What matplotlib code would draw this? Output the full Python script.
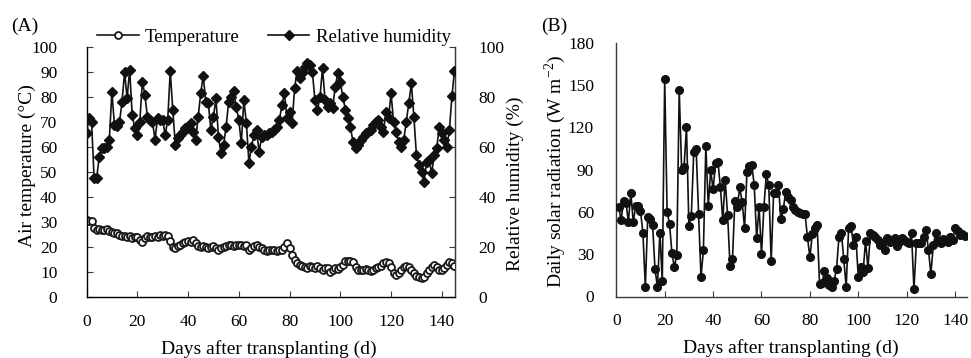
import matplotlib
matplotlib.use("Agg")
import matplotlib.pyplot as plt
import numpy as np

plt.rcParams['font.family'] = ['Liberation Serif', 'DejaVu Serif']
plt.rcParams['mathtext.fontset'] = 'stix'

# ---------------- data ----------------
days_a = np.arange(0, 146)
temperature = [
    30.8, 30.5, 30.3, 27.5, 27.0, 27.3, 27.0, 26.8, 27.2, 26.5,
    26.0, 25.5, 25.8, 25.0, 24.5, 24.5, 24.0, 24.3, 23.8, 24.0,
    24.2, 23.0, 22.0, 23.5, 24.5, 24.0, 24.2, 24.5, 24.0, 24.8,
    24.3, 25.0, 24.5, 22.5, 20.0, 19.5, 20.5, 21.0, 21.5, 22.0,
    22.5, 22.0, 22.8, 21.5, 20.5, 20.0, 20.5, 20.2, 19.8, 20.0,
    20.5, 19.5, 19.0, 19.5, 20.0, 20.5, 20.8, 21.0, 20.5, 21.0,
    20.8, 21.0, 20.5, 21.0, 19.0, 19.5, 20.5, 21.0, 20.2, 19.5,
    19.0, 18.5, 19.0, 18.8, 19.0, 18.5, 19.0, 18.8, 20.0, 21.7,
    19.5, 17.0, 15.0, 13.5, 12.8, 12.5, 12.0, 11.5, 12.5, 12.0,
    11.8, 12.3, 11.5, 11.0, 11.8, 11.5, 10.2, 11.0, 11.5, 11.2,
    12.0, 13.0, 14.4, 14.5, 14.3, 14.0, 12.0, 11.0, 10.8, 11.0,
    11.2, 10.8, 10.5, 11.0, 11.5, 12.0, 12.5, 13.5, 14.1, 13.5,
    12.0, 9.5, 8.8, 9.5, 11.0, 12.0, 12.4, 12.0, 11.0, 9.5,
    8.5, 8.0, 7.5, 8.0, 9.5, 11.0, 12.0, 12.8, 12.0, 11.0,
    10.8, 11.5, 13.0, 14.1, 13.5, 12.4,
]
humidity = [
    65.5, 71.5, 70.0, 47.5, 47.5, 56.0, 59.5, 59.5, 60.0, 63.0,
    82.0, 69.0, 68.5, 70.0, 78.0, 90.0, 79.5, 91.0, 73.0, 67.5,
    65.0, 70.0, 86.0, 81.0, 72.0, 71.0, 70.0, 63.0, 71.5, 71.0,
    70.8, 64.8, 70.8, 90.4, 74.8, 60.8, 63.5, 65.0, 66.0, 67.5,
    68.0, 69.5, 66.0, 63.0, 72.0, 81.5, 88.5, 78.0, 77.5, 67.0,
    72.0, 79.5, 64.0, 57.5, 60.8, 68.0, 78.0, 80.0, 82.5, 76.0,
    70.8, 61.5, 78.8, 69.5, 53.7, 60.0, 64.8, 67.0, 58.0, 64.0,
    64.8, 65.0, 65.5, 66.0, 66.8, 68.0, 70.8, 76.8, 81.5, 71.5,
    74.0, 69.5, 83.5, 90.5, 87.5, 89.5, 91.9, 93.7, 92.8, 90.1,
    78.8, 74.8, 80.0, 91.5, 78.8, 76.0, 77.5, 75.5, 84.0, 89.5,
    86.0, 80.0, 75.0, 71.5, 68.0, 62.0, 59.5, 60.8, 62.8, 64.0,
    65.5, 66.0, 67.0, 68.8, 70.0, 70.8, 68.0, 66.0, 74.0, 71.5,
    81.5, 70.0, 66.0, 62.0, 60.0, 62.8, 70.0, 77.5, 85.5, 72.0,
    56.8, 52.8, 50.0, 46.0, 54.0, 54.8, 49.5, 56.8, 59.5, 68.0,
    65.5, 62.8, 60.0, 66.8, 80.5, 90.5,
]
radiation = [
    63.7, 54.2, 67.9, 66.5, 53.0, 73.6, 52.6, 64.4, 64.4, 60.6,
    45.2, 6.5, 56.6, 55.2, 50.9, 19.2, 7.0, 45.0, 11.0, 154.0,
    60.1, 51.4, 30.6, 20.7, 29.6, 146.4, 90.0, 92.0, 120.4, 50.0,
    57.3, 102.2, 104.3, 58.5, 13.6, 33.0, 106.7, 64.1, 89.7, 76.0,
    94.4, 95.6, 77.9, 54.2, 82.6, 57.8, 21.6, 26.3, 68.0, 63.7,
    77.4, 67.2, 48.3, 88.5, 92.5, 93.0, 79.0, 41.2, 63.7, 30.1,
    63.7, 86.8, 79.0, 24.9, 73.1, 73.6, 79.0, 54.7, 61.8, 74.3,
    70.8, 68.4, 63.7, 61.3, 60.0, 59.4, 58.5, 58.5, 41.9, 27.7,
    44.3, 48.3, 50.7, 8.8, 9.3, 18.0, 12.9, 8.1, 6.5, 11.2,
    19.3, 42.0, 45.3, 26.4, 6.5, 48.3, 50.0, 36.5, 42.0, 13.6,
    20.7, 17.6, 39.6, 20.0, 44.8, 43.6, 42.0, 40.0, 36.5, 37.7,
    33.0, 41.2, 39.0, 40.1, 41.2, 35.8, 38.5, 41.2, 40.1, 38.5,
    37.7, 44.8, 5.1, 38.0, 37.7, 37.7, 42.0, 47.2, 33.0, 16.0,
    36.5, 44.8, 39.6, 38.0, 40.5, 40.1, 38.9, 42.4, 40.1, 48.3,
    46.7, 43.6, 44.3, 42.9,
]
days_b = np.arange(1, len(radiation) + 1)

x_ticks = [0, 20, 40, 60, 80, 100, 120, 140]
left_ticks_a = list(range(0, 101, 10))
right_ticks_a = list(range(0, 101, 20))
ticks_b = list(range(0, 181, 30))

# ---------------- figure ----------------
W, H = 971, 358
fig = plt.figure(figsize=(W / 100, H / 100), dpi=100)

def fx(px):
    return px / W

def fy(py):
    return 1 - py / H

FS = 12.5
LFS = 14
spine_c = '#3a3a3a'

# Panel A
axA = fig.add_axes([fx(86.5), fy(297), fx(455) - fx(86.5), fy(47) - fy(297)])
axA.plot(days_a, temperature, color='#1a1a1a', lw=1.2, marker='o', ms=5,
         mfc='white', mec='#1a1a1a', mew=1.3, label='Temperature', zorder=3)
axA.set_xlim(0, 145.2)
axA.set_ylim(0, 100)
axA.set_xticks(x_ticks)
axA.set_yticks(left_ticks_a)
axA.spines['top'].set_visible(False)
for s in ['left', 'bottom', 'right']:
    axA.spines[s].set_color(spine_c)
    axA.spines[s].set_linewidth(1.0)
axA.tick_params(axis='both', direction='in', length=4, color=spine_c, labelsize=FS)
axA.tick_params(axis='y', pad=21)
axA.tick_params(axis='x', pad=12)

axA2 = axA.twinx()
axA2.plot(days_a, humidity, color='#111111', lw=1.2, marker='D', ms=5.5,
          mfc='#111111', mec='#111111', label='Relative humidity', zorder=3)
axA2.set_ylim(0, 100)
axA2.set_yticks(right_ticks_a)
axA2.spines['top'].set_visible(False)
axA2.spines['right'].set_color(spine_c)
axA2.tick_params(axis='y', direction='in', length=4, color=spine_c, labelsize=FS, pad=17)

h1, l1 = axA.get_legend_handles_labels()
h2, l2 = axA2.get_legend_handles_labels()
fig.legend(h1 + h2, l1 + l2, loc='center', bbox_to_anchor=(fx(274), fy(37)),
           ncol=2, frameon=False, fontsize=13.5, handlelength=2.2,
           handletextpad=0.35, columnspacing=1.5)

fig.text(fx(27), fy(166), 'Air temperature (°C)', rotation=90,
         ha='center', va='center', fontsize=LFS)
fig.text(fx(515), fy(184), 'Relative humidity (%)', rotation=90,
         ha='center', va='center', fontsize=LFS)
fig.text(fx(269), fy(349), 'Days after transplanting (d)',
         ha='center', va='center', fontsize=LFS)
fig.text(fx(25), fy(26), '(A)', ha='center', va='center', fontsize=LFS)

# Panel B
axB = fig.add_axes([fx(616.3), fy(296.5), fx(966.7) - fx(616.3), fy(42.7) - fy(296.5)])
axB.plot(days_b, radiation, color='#111111', lw=1.2, marker='o', ms=5.5,
         mfc='#111111', mec='#111111', zorder=3)
axB.set_xlim(0, 144.8)
axB.set_ylim(0, 180)
axB.set_xticks(x_ticks)
axB.set_yticks(ticks_b)
axB.spines['top'].set_visible(False)
axB.spines['right'].set_visible(False)
for s in ['left', 'bottom']:
    axB.spines[s].set_color(spine_c)
    axB.spines[s].set_linewidth(1.0)
axB.tick_params(axis='x', direction='in', length=4, color=spine_c, labelsize=FS, pad=12)
axB.tick_params(axis='y', direction='in', length=0, color=spine_c, labelsize=FS, pad=16)

fig.text(fx(555), fy(171), 'Daily solar radiation (W m$^{\\mathregular{-2}}$)', rotation=90,
         ha='center', va='center', fontsize=LFS)
fig.text(fx(791), fy(348), 'Days after transplanting (d)',
         ha='center', va='center', fontsize=LFS)
fig.text(fx(554), fy(26), '(B)', ha='center', va='center', fontsize=LFS)

fig.savefig('out.png', dpi=100)
